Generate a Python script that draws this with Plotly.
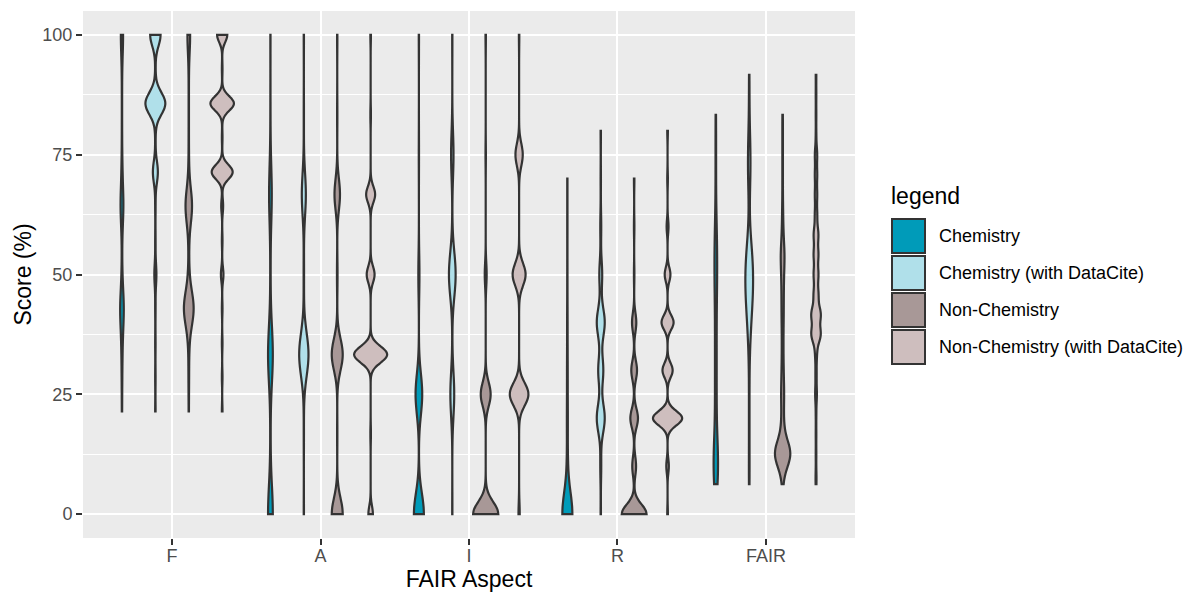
import numpy as np
import plotly.graph_objects as go

aspects = ["F", "A", "I", "R", "FAIR"]
groups = ["Chemistry", "Chemistry (with DataCite)", "Non-Chemistry", "Non-Chemistry (with DataCite)"]
colors = ["#009BB9", "#B0E0EA", "#A89897", "#CEBEBE"]

# score values (%) and number of records at each value, per aspect and group
F_scores = [21.4, 28.6, 35.7, 42.9, 50.0, 57.1, 64.3, 71.4, 78.6, 85.7, 92.9, 100.0]
F_chem = [1, 2, 4, 14, 2, 1, 11, 3, 1, 1, 1, 9]
F_chem_dc = [1, 1, 1, 1, 5, 1, 1, 12, 1, 48, 1, 25]
F_nonchem = [1, 2, 3, 36, 3, 2, 24, 2, 1, 1, 1, 10]
F_nonchem_dc = [1, 1, 1, 1, 4, 1, 3, 33, 1, 37, 1, 16]

A_scores = [0, 16.7, 33.3, 50, 66.7, 83.3, 100]
A_chem = [30, 2, 30, 2, 17, 1, 1]
A_chem_dc = [1, 1, 44, 2, 19, 1, 1]
A_nonchem = [38, 1, 38, 2, 19, 1, 1]
A_nonchem_dc = [8, 1, 59, 14, 16, 1, 1]

I_scores = [0, 25, 50, 75, 100]
I_chem = [45, 30, 5, 1, 1]
I_chem_dc = [1, 19, 33, 12, 1]
I_nonchem = [66, 26, 5, 1, 1]
I_nonchem_dc = [3, 46, 32, 18, 1]

R_scores = [0, 10, 20, 30, 40, 50, 60, 70, 80]
R_chem = [47, 4, 4, 3, 2, 1, 1, 1, 0]
R_chem_dc = [1, 3, 25, 16, 25, 9, 3, 1, 1]
R_nonchem = [52, 8, 16, 12, 9, 1, 1, 1, 0]
R_nonchem_dc = [1, 4, 46, 16, 19, 9, 3, 1, 1]

FAIR_scores = [6.25, 8.33, 12.5, 16.67, 20.83, 25, 29.17, 33.33, 37.5, 41.67, 45.83,
               50, 54.17, 58.33, 62.5, 66.67, 70.83, 75, 79.17, 83.33, 87.5, 91.67]
FAIR_chem = [7, 5, 10, 4, 3, 3, 3, 3, 3, 3, 4, 5, 5, 4, 2, 1, 1, 1, 1, 1, 0, 0]
FAIR_chem_dc = [1, 1, 1, 1, 1, 1, 1, 2, 5, 9, 14, 15, 12, 4, 1, 2, 5, 5, 3, 1, 1, 1]
FAIR_nonchem = [1, 3, 40, 6, 4, 6, 4, 3, 3, 4, 4, 5, 8, 3, 2, 1, 1, 1, 1, 1, 0, 0]
FAIR_nonchem_dc = [1, 1, 1, 1, 1, 3, 2, 3, 16, 16, 8, 8, 8, 8, 4, 4, 4, 4, 1, 1, 1, 1]

# kernel bandwidths (score units) per aspect F, A, I, R, FAIR
bw_chem = [4.0, 6.0, 4.3, 4.5, 4.0]
bw_chem_dc = [2.3, 4.5, 4.7, 3.0, 3.8]
bw_nonchem = [3.6, 3.3, 2.5, 2.0, 2.65]
bw_nonchem_dc = [1.5, 1.7, 2.35, 1.5, 1.7]

scores = {"F": F_scores, "A": A_scores, "I": I_scores, "R": R_scores, "FAIR": FAIR_scores}
counts = {
    "F": [F_chem, F_chem_dc, F_nonchem, F_nonchem_dc],
    "A": [A_chem, A_chem_dc, A_nonchem, A_nonchem_dc],
    "I": [I_chem, I_chem_dc, I_nonchem, I_nonchem_dc],
    "R": [R_chem, R_chem_dc, R_nonchem, R_nonchem_dc],
    "FAIR": [FAIR_chem, FAIR_chem_dc, FAIR_nonchem, FAIR_nonchem_dc],
}
bandwidths = [bw_chem, bw_chem_dc, bw_nonchem, bw_nonchem_dc]

# the page body adds an 8px offset; the figure is sized so the page matches 1191x592
OFF = 8
W, H = 1191 - OFF, 592 - OFF
L, T = 83 - OFF, 11 - OFF
R = W - (855 - OFF)
B = H - (538 - OFF)
PW, PH = W - L - R, H - T - B
FONT = "Liberation Sans, Arial, Helvetica, sans-serif"
OUTLINE = "#333333"

fig = go.Figure()
for ai, a in enumerate(aspects):
    for gi, g in enumerate(groups):
        y = np.repeat(np.array(scores[a], dtype=float), counts[a][gi])
        fig.add_trace(go.Violin(
            x=[a] * len(y), y=y, name=g, legendgroup=g,
            offsetgroup=g, alignmentgroup="all",
            scalegroup="all", scalemode="count",
            bandwidth=bandwidths[gi][ai], spanmode="hard",
            points=False, fillcolor=colors[gi],
            line=dict(color=OUTLINE, width=2.2),
            opacity=1, showlegend=False, hoverinfo="skip",
        ))

fig.update_layout(
    width=W, height=H,
    margin=dict(l=L, r=R, t=T, b=B, autoexpand=False),
    paper_bgcolor="white", plot_bgcolor="#EBEBEB",
    violinmode="group", violingap=0.1, violingroupgap=0,
    font=dict(family=FONT, color="black"),
    showlegend=False,
)
fig.update_xaxes(
    type="category", categoryorder="array", categoryarray=aspects,
    range=[-0.6, 4.6], showgrid=True, gridcolor="white", gridwidth=2.2,
    ticks="outside", ticklen=6, tickwidth=2, tickcolor=OUTLINE,
    ticklabelstandoff=-5,
    tickfont=dict(size=18, color="#4D4D4D"),
    title=dict(text="FAIR Aspect", font=dict(size=23, color="black"), standoff=10),
    zeroline=False, showline=False, automargin=False,
)
fig.update_yaxes(
    range=[-5, 105], tickvals=[0, 25, 50, 75, 100],
    showgrid=True, gridcolor="white", gridwidth=2.2,
    minor=dict(tickvals=[12.5, 37.5, 62.5, 87.5], showgrid=True,
               gridcolor="white", gridwidth=1.1, ticks=""),
    ticks="outside", ticklen=6, tickwidth=2, tickcolor=OUTLINE,
    ticklabelstandoff=0,
    tickfont=dict(size=18, color="#4D4D4D"),
    title=dict(text="Score (%)", font=dict(size=23, color="black"), standoff=4),
    zeroline=False, showline=False, automargin=False,
)

# legend drawn as keys + labels to the right of the panel (positions in page px)
def px_x(px):
    return (px - OFF - L) / PW

def px_y(py):
    return (H - B - (py - OFF)) / PH

fig.add_annotation(x=px_x(889), y=px_y(196), xref="paper", yref="paper",
                   text="legend", showarrow=False, xanchor="left", yanchor="middle",
                   font=dict(size=23, color="black"))
for gi, g in enumerate(groups):
    top = 219 + 37 * gi
    fig.add_shape(type="rect", xref="paper", yref="paper",
                  x0=px_x(892), x1=px_x(925), y0=px_y(top), y1=px_y(top + 34),
                  fillcolor=colors[gi], line=dict(color=OUTLINE, width=2))
    fig.add_annotation(x=px_x(937), y=px_y(top + 17), xref="paper", yref="paper",
                       text=g, showarrow=False, xanchor="left", yanchor="middle",
                       font=dict(size=18, color="black"))

fig.write_html("out.html")
